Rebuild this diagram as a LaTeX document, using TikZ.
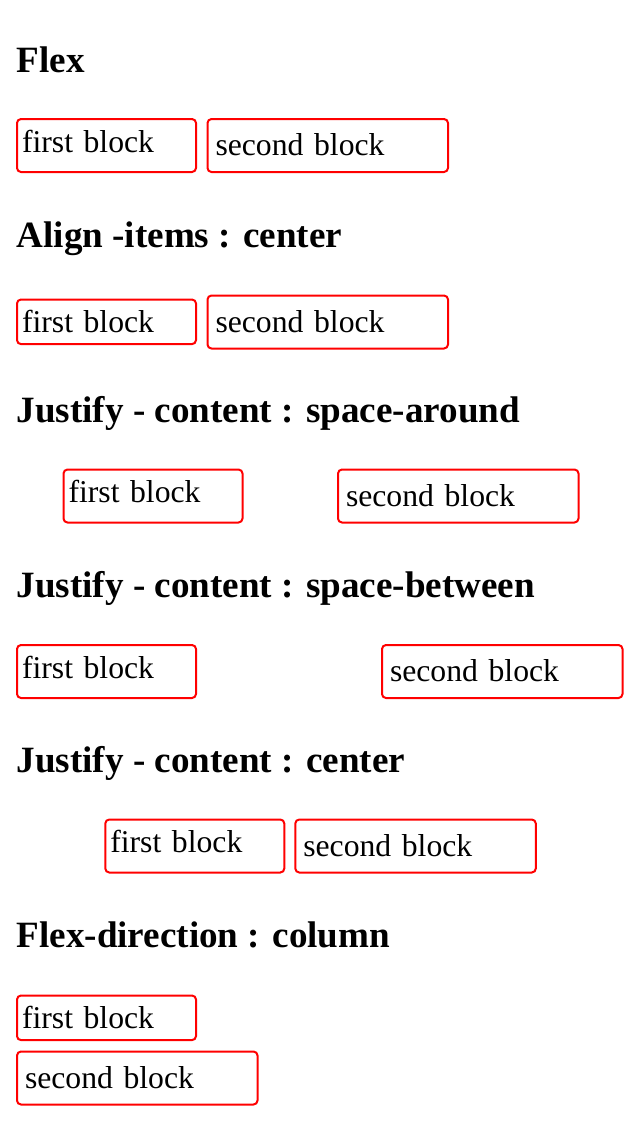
\documentclass[tikz,border=0pt]{standalone}
\usepackage{fontspec}
\setmainfont{Liberation Serif}
\tikzset{
	heading/.style={anchor=base west, inner sep=0pt, font=\fontsize{37.1}{43}\selectfont\bfseries},
	blk/.style={draw=\BLOCKCOLOR, line width=2pt, rounded corners=4pt, anchor=north west, inner ysep=0pt, align=left, font=\fontsize{31.7}{37}\selectfont},
	firstblk/.style={blk, inner xsep=5pt, text width=169pt, text height=33pt, text depth=20pt},
	secondblk/.style={blk, inner xsep=8pt, text width=224.5pt, text height=36.5pt, text depth=16.5pt},
	natural/.style={text depth=11.6pt}
}
\begin{document}
\begin{tikzpicture}[x=1pt,y=-1pt]

\def\BLOCKCOLOR{red}
	\useasboundingbox (0,0) rectangle (640,1136);
	\node[heading] (hflex) at (16.5,72) {Flex};
	\node[firstblk] (flexa) at (16,118) {first block};
	\node[secondblk] (flexb) at (206.5,118) {second block};
	\node[heading] (halign) at (16.5,247) {Align -items : center};
	\node[firstblk,natural] (aligna) at (16,298.5) {first block};
	\node[secondblk] (alignb) at (206.5,294.5) {second block};
	\node[heading] (haround) at (16.5,422) {Justify - content : space-around};
	\node[firstblk] (arounda) at (62.5,468.5) {first block};
	\node[secondblk] (aroundb) at (337,468.5) {second block};
	\node[heading] (hbetween) at (16.5,597) {Justify - content : space-between};
	\node[firstblk] (betweena) at (16,644) {first block};
	\node[secondblk] (betweenb) at (381,644) {second block};
	\node[heading] (hcenter) at (16.5,772) {Justify - content : center};
	\node[firstblk] (centera) at (104.3,818.5) {first block};
	\node[secondblk] (centerb) at (294.3,818.5) {second block};
	\node[heading] (hcolumn) at (16.5,947) {Flex-direction : column};
	\node[firstblk,natural] (columna) at (16,994.5) {first block};
	\node[secondblk] (columnb) at (16,1050.5) {second block};

          \end{tikzpicture}
\end{document}
